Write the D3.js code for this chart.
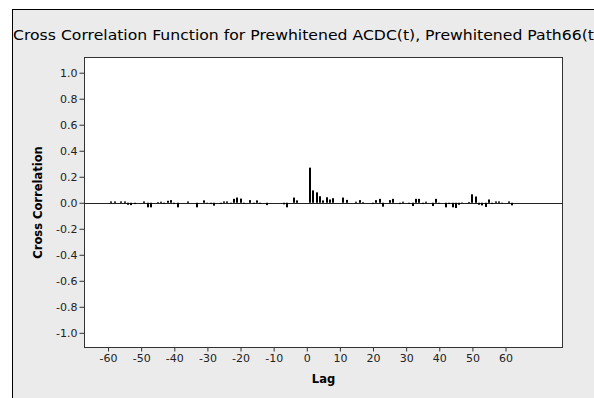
<!DOCTYPE html>
<html>
<head>
<meta charset="utf-8">
<script src="https://cdn.jsdelivr.net/npm/d3@7/dist/d3.min.js"></script>
<style>
  html, body { margin: 0; padding: 0; background: #ffffff; }
  svg { display: block; }
  .tick text { font-family: Tahoma, "DejaVu Sans", sans-serif; }
</style>
</head>
<body>
<div id="chart"></div>
<script>
// Cross correlation of the two prewhitened series, by lag
const lags = d3.range(-60, 63);
const ccfValues = [
  // -60 .. -51
  0, 0.01, 0.01, 0, 0.01, 0.01, -0.015, -0.018, -0.01, 0,
  // -50 .. -41
  0, 0.01, -0.035, -0.035, 0, 0.005, 0.008, -0.008, 0.015, 0.02,
  // -40 .. -31
  -0.01, -0.035, 0, 0, 0.01, 0, 0, -0.035, 0, 0.018,
  // -30 .. -21
  -0.005, -0.01, -0.022, 0, -0.01, 0.01, 0.01, -0.006, 0.03, 0.04,
  // -20 .. -11
  0.032, -0.008, 0, 0.02, -0.008, 0.018, -0.008, 0, -0.018, 0,
  // -10 .. -1
  0, 0, 0, -0.012, -0.035, 0, 0.04, 0.018, 0, 0,
  // 0 .. 9
  0, 0.27, 0.095, 0.08, 0.05, 0.018, 0.042, 0.025, 0.035, 0,
  // 10 .. 19
  0, 0.04, 0.022, 0, 0, 0.008, 0.02, 0.005, 0, 0,
  // 20 .. 29
  -0.01, 0.02, 0.03, -0.03, 0, 0.02, 0.03, 0, -0.01, 0.008,
  // 30 .. 39
  0, -0.008, -0.025, 0.03, 0.03, -0.01, 0.008, 0, -0.025, 0.03,
  // 40 .. 49
  -0.005, 0, -0.035, -0.01, -0.035, -0.04, -0.015, 0.003, 0, 0.006,
  // 50 .. 59
  0.065, 0.048, -0.015, -0.02, -0.032, 0.025, -0.01, 0.01, 0.01, -0.005,
  // 60 .. 62
  0, 0.01, -0.02
];
const xTickValues = [-60, -50, -40, -30, -20, -10, 0, 10, 20, 30, 40, 50, 60];
const yTickValues = [-1.0, -0.8, -0.6, -0.4, -0.2, 0.0, 0.2, 0.4, 0.6, 0.8, 1.0];

const titleText = "Cross Correlation Function for Prewhitened ACDC(t), Prewhitened Path66(t)";
const xLabel = "Lag";
const yLabel = "Cross Correlation";

const W = 594, H = 398;
const plot = { left: 84.5, right: 562.5, top: 57.5, bottom: 347.5 };

const svg = d3.select("#chart").append("svg")
  .attr("width", W).attr("height", H);

// Figure panel: grey background with a dark border on top and left
svg.append("rect").attr("x", 12).attr("y", 9).attr("width", W - 12).attr("height", H - 9)
  .attr("fill", "#ebebeb");
svg.append("line").attr("x1", 12.5).attr("x2", 12.5).attr("y1", 9).attr("y2", H)
  .attr("stroke", "#000").attr("stroke-width", 1);
svg.append("line").attr("x1", 12).attr("x2", W).attr("y1", 9.5).attr("y2", 9.5)
  .attr("stroke", "#000").attr("stroke-width", 1);

// Title (wider than the panel; it runs off the right edge)
svg.append("text")
  .attr("x", 13).attr("y", 40)
  .attr("font-family", "Tahoma, 'DejaVu Sans', sans-serif")
  .attr("font-size", 14)
  .attr("textLength", 587)
  .attr("lengthAdjust", "spacingAndGlyphs")
  .attr("fill", "#000")
  .text(titleText);

const x = d3.scaleLinear().domain([-67.1, 77.2]).range([plot.left, plot.right]);
const y = d3.scaleLinear().domain([-1.113, 1.117]).range([plot.bottom, plot.top]);

// Plot area
svg.append("rect")
  .attr("x", plot.left).attr("y", plot.top)
  .attr("width", plot.right - plot.left).attr("height", plot.bottom - plot.top)
  .attr("fill", "#ffffff").attr("stroke", "#333").attr("stroke-width", 1);

// Zero reference line
svg.append("line")
  .attr("x1", plot.left).attr("x2", plot.right)
  .attr("y1", Math.round(y(0)) + 0.5).attr("y2", Math.round(y(0)) + 0.5)
  .attr("stroke", "#222").attr("stroke-width", 1);

// Correlation bars
const data = lags.map((lag, i) => ({ lag, value: ccfValues[i] }));
svg.append("g").selectAll("rect")
  .data(data.filter(d => d.value !== 0))
  .join("rect")
  .attr("x", d => Math.round(x(d.lag)) - 1)
  .attr("width", 2)
  .attr("y", d => y(Math.max(0, d.value)))
  .attr("height", d => Math.abs(y(d.value) - y(0)))
  .attr("fill", "#000");

// Axes (plain hyphen for negative labels)
const xAxis = d3.axisBottom(x).tickValues(xTickValues).tickSize(4).tickPadding(3)
  .tickFormat(d => String(d));
const gx = svg.append("g").attr("transform", `translate(0,${plot.bottom})`).call(xAxis);
gx.select(".domain").remove();
gx.selectAll(".tick line").attr("stroke", "#333");
gx.selectAll(".tick text").attr("font-size", 11).attr("fill", "#222");

const yAxis = d3.axisLeft(y).tickValues(yTickValues).tickSize(5).tickPadding(2)
  .tickFormat(d => d.toFixed(1));
const gy = svg.append("g").attr("transform", `translate(${plot.left},0)`).call(yAxis);
gy.select(".domain").remove();
gy.selectAll(".tick line").attr("stroke", "#333");
gy.selectAll(".tick text").attr("font-size", 11).attr("fill", "#222");

// Axis titles
svg.append("text")
  .attr("x", (plot.left + plot.right) / 2).attr("y", 383)
  .attr("text-anchor", "middle")
  .attr("font-family", "Tahoma, 'DejaVu Sans', sans-serif")
  .attr("font-size", 11.5).attr("font-weight", "bold")
  .text(xLabel);

svg.append("text")
  .attr("transform", `translate(42,${(plot.top + plot.bottom) / 2}) rotate(-90)`)
  .attr("text-anchor", "middle")
  .attr("font-family", "Tahoma, 'DejaVu Sans', sans-serif")
  .attr("font-size", 11.5).attr("font-weight", "bold")
  .text(yLabel);
</script>
</body>
</html>
